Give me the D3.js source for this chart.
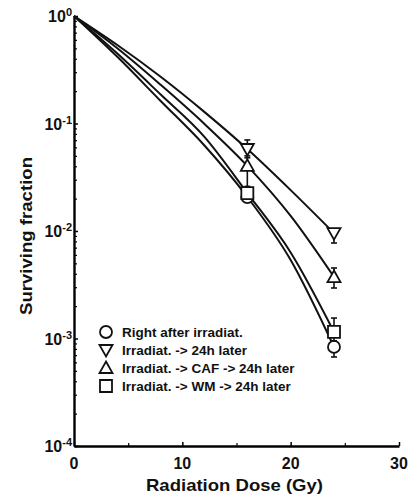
<!DOCTYPE html>
<html>
<head>
<meta charset="utf-8">
<script src="https://cdn.jsdelivr.net/npm/d3@7"></script>
<style>
  body { margin: 0; background: #fff; }
  text { font-family: "Liberation Sans", Arial, sans-serif; font-weight: bold; fill: #111; }
</style>
</head>
<body>
<svg id="board"></svg>
<script>
let curveDoses = [0, 4, 8, 12, 16, 20, 24]

let seriesNames = ['Right after irradiat.', 'Irradiat. -> 24h later', 'Irradiat. -> CAF -> 24h later', 'Irradiat. -> WM -> 24h later']
let seriesMarks = ['circle', 'down', 'up', 'square']

let curveRight = [1, 0.417, 0.162, 0.0631, 0.0207, 0.00537, 0.000834]
let curve24h = [1, 0.537, 0.272, 0.129, 0.0579, 0.0240, 0.00955]
let curveCaf = [1, 0.501, 0.229, 0.100, 0.0403, 0.0138, 0.00373]
let curveWm = [1, 0.447, 0.186, 0.0759, 0.0225, 0.00631, 0.00115]

// measured points
let pointDoses = [16, 24]
let pointRight = [0.0207, 0.000834]
let pointRightLow = [0.0195, 0.000673]
let pointRightHigh = [0.022, 0.00095]
let point24h = [0.0579, 0.00955]
let point24hLow = [0.048, 0.00773]
let point24hHigh = [0.0703, 0.0103]
let pointCaf = [0.0403, 0.00373]
let pointCafLow = [0.026, 0.00295]
let pointCafHigh = [0.05, 0.00453]
let pointWm = [0.0225, 0.00115]
let pointWmLow = [0.02, 0.00095]
let pointWmHigh = [0.025, 0.00155]

let xTicks = [0, 10, 20, 30]
let xMinor = [5, 15, 25]
let yExponents = [0, -1, -2, -3, -4]

let width = 409
let height = 497
let padLeft = 74, padRight = 399, padTop = 16, padBottom = 446

let board = d3.select('#board')
    .attr('width', width)
    .attr('height', height)

let xScale = d3.scaleLinear().domain([0, 30]).range([padLeft, padRight])
let yScale = d3.scaleLog().domain([1e-4, 1]).range([padBottom, padTop])

let curves = [curveRight, curve24h, curveCaf, curveWm]
let points = [pointRight, point24h, pointCaf, pointWm]
let lows = [pointRightLow, point24hLow, pointCafLow, pointWmLow]
let highs = [pointRightHigh, point24hHigh, pointCafHigh, pointWmHigh]

let markerPath = (type, cx, cy) => {
    let p = d3.path()
    if (type == 'circle') {
        p.moveTo(cx + 6, cy)
        p.arc(cx, cy, 6, 0, Math.PI * 2)
    } else if (type == 'square') {
        p.rect(cx - 6, cy - 6, 12, 12)
    } else if (type == 'up') {
        p.moveTo(cx, cy - 6.5); p.lineTo(cx + 6.5, cy + 5); p.lineTo(cx - 6.5, cy + 5); p.closePath()
    } else {
        p.moveTo(cx, cy + 6.5); p.lineTo(cx + 6.5, cy - 5); p.lineTo(cx - 6.5, cy - 5); p.closePath()
    }
    return p.toString()
}

// minor log ticks
let yMinor = []
for (let e = -4; e < 0; e++) {
    for (let m = 2; m <= 9; m++) yMinor.push(m * Math.pow(10, e))
}

board.append('g')
    .attr('transform', 'translate(' + padLeft + ',0)')
    .call(d3.axisLeft(yScale).tickValues(yMinor).tickSize(-3).tickFormat(''))
    .call(g => g.select('.domain').remove())
    .selectAll('line').attr('stroke-width', 1.2)

board.append('g')
    .attr('transform', 'translate(' + padLeft + ',0)')
    .call(d3.axisLeft(yScale).tickValues(yExponents.map(e => Math.pow(10, e))).tickSize(-4).tickSizeOuter(0).tickFormat(''))
    .call(g => g.select('.domain').attr('stroke-width', 2.4))
    .selectAll('line').attr('stroke-width', 1.5)

board.append('g')
    .attr('transform', 'translate(0,' + padBottom + ')')
    .call(d3.axisBottom(xScale).tickValues(xMinor).tickSize(-3).tickFormat(''))
    .call(g => g.select('.domain').remove())
    .selectAll('line').attr('stroke-width', 1.2)

board.append('g')
    .attr('transform', 'translate(0,' + padBottom + ')')
    .call(d3.axisBottom(xScale).tickValues(xTicks).tickSize(-4).tickSizeOuter(0).tickFormat(''))
    .call(g => g.select('.domain').attr('stroke-width', 2.4))
    .selectAll('line').attr('stroke-width', 1.5)

// tick labels
board.selectAll('.xlab')
    .data(xTicks)
    .enter()
    .append('text')
    .attr('class', 'xlab')
    .attr('x', d => xScale(d))
    .attr('y', 469)
    .attr('text-anchor', 'middle')
    .style('font-size', '16px')
    .text(d => d)

let ylabs = board.selectAll('.ylab')
    .data(yExponents)
    .enter()
    .append('text')
    .attr('class', 'ylab')
    .attr('x', 72)
    .attr('y', d => yScale(Math.pow(10, d)) + 6)
    .attr('text-anchor', 'end')
    .style('font-size', '16px')
ylabs.append('tspan').text('10')
ylabs.append('tspan')
    .attr('dy', -6)
    .style('font-size', '11px')
    .text(d => d)

board.append('text')
    .attr('x', 234.5)
    .attr('y', 491)
    .attr('text-anchor', 'middle')
    .attr('textLength', 177)
    .attr('lengthAdjust', 'spacingAndGlyphs')
    .style('font-size', '17px')
    .text('Radiation Dose (Gy)')

board.append('text')
    .attr('transform', 'translate(32,236) rotate(-90)')
    .attr('text-anchor', 'middle')
    .attr('textLength', 158)
    .attr('lengthAdjust', 'spacingAndGlyphs')
    .style('font-size', '17px')
    .text('Surviving fraction')

// fitted curves
let line = d3.line()
    .x((d, i) => xScale(curveDoses[i]))
    .y(d => yScale(d))
    .curve(d3.curveMonotoneX)

board.selectAll('.curve')
    .data(curves)
    .enter()
    .append('path')
    .attr('class', 'curve')
    .attr('d', d => line(d))
    .attr('fill', 'none')
    .attr('stroke', '#111')
    .attr('stroke-width', 2)

// error bars and markers
curves.forEach((c, s) => {
    let g = board.append('g')
    pointDoses.forEach((dose, i) => {
        let x = xScale(dose)
        let y0 = yScale(lows[s][i]), y1 = yScale(highs[s][i])
        g.append('line').attr('x1', x).attr('x2', x).attr('y1', y0).attr('y2', y1)
            .attr('stroke', '#111').attr('stroke-width', 1.6)
        ;[y0, y1].forEach(yy => {
            g.append('line').attr('x1', x - 3).attr('x2', x + 3).attr('y1', yy).attr('y2', yy)
                .attr('stroke', '#111').attr('stroke-width', 1.6)
        })
        g.append('path')
            .attr('d', markerPath(seriesMarks[s], x, yScale(points[s][i])))
            .attr('fill', '#fff')
            .attr('stroke', '#111')
            .attr('stroke-width', 1.8)
    })
})

// legend
let legend = board.selectAll('.leg')
    .data(seriesNames)
    .enter()
    .append('g')
    .attr('class', 'leg')
    .attr('transform', (d, i) => 'translate(0,' + (332 + i * 18) + ')')
legend.append('path')
    .attr('d', (d, i) => markerPath(seriesMarks[i], 106, 0))
    .attr('fill', '#fff')
    .attr('stroke', '#111')
    .attr('stroke-width', 1.8)
legend.append('text')
    .attr('x', 122)
    .attr('y', 4.5)
    .style('font-size', '13.5px')
    .text(d => d)
</script>
</body>
</html>
